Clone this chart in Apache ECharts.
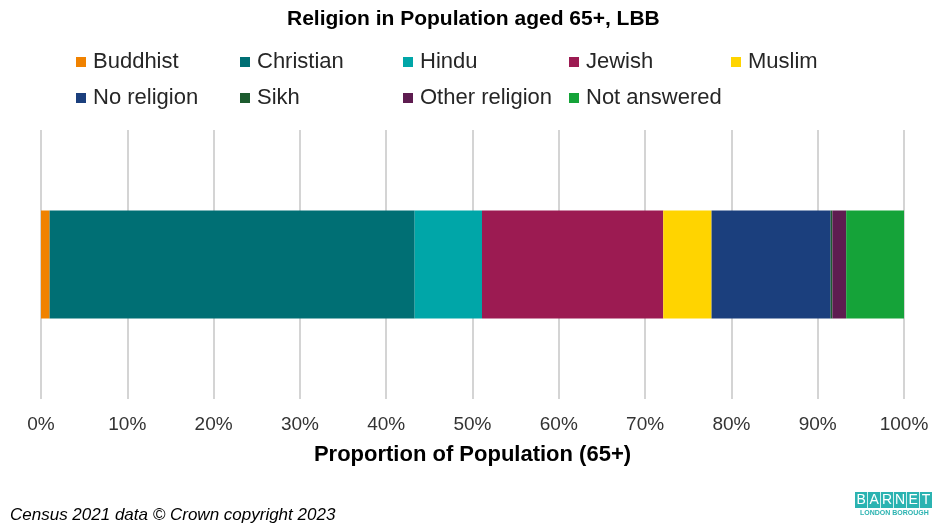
<!DOCTYPE html>
<html>
<head>
<meta charset="utf-8">
<script src="https://cdn.jsdelivr.net/npm/echarts@6/dist/echarts.min.js"></script>
<style>html,body{margin:0;padding:0;background:#fff;}#c{width:932px;height:524px;}</style>
</head>
<body>
<div id="c"></div>
<script>
const categories = ['LBB'];
const religions = ['Buddhist','Christian','Hindu','Jewish','Muslim','No religion','Sikh','Other religion','Not answered'];
const shares = [1.0, 42.3, 7.8, 21.0, 5.6, 13.8, 0.2, 1.6, 6.7];
const colors = ['#F08200','#006F74','#00A6A8','#9C1B52','#FFD400','#1B3F7D','#1D5B2F','#5E1C50','#15A339'];
const tickValues = [0,10,20,30,40,50,60,70,80,90,100];

const FONT = '"Liberation Sans", Arial, sans-serif';
const legendPos = [
  [76,50],[240,50],[403,50],[569,50],[731,50],
  [76,86],[240,86],[403,86],[569,86]
];

const chart = echarts.init(document.getElementById('c'));
chart.setOption({
  animation: false,
  color: colors,
  title: {
    text: 'Religion in Population aged 65+, LBB',
    left: 287, top: 9, padding: 0,
    textStyle: {fontFamily: FONT, fontSize: 21, fontWeight: 'bold', color: '#000'}
  },
  legend: religions.map((r, i) => ({
    data: [r],
    left: legendPos[i][0], top: legendPos[i][1], padding: 0,
    icon: 'rect', itemWidth: 10, itemHeight: 10,
    textStyle: {fontFamily: FONT, fontSize: 22, color: '#262626', lineHeight: 24, padding: [0,0,0,2]}
  })),
  grid: {left: 41, right: 28, top: 130, bottom: 125},
  xAxis: {
    type: 'value', min: tickValues[0], max: tickValues[tickValues.length-1], interval: 10,
    axisLine: {show: false}, axisTick: {show: false},
    splitLine: {show: true, lineStyle: {color: '#C6C6C6', width: 1.5}},
    axisLabel: {formatter: '{value}%', margin: 16, fontFamily: FONT, fontSize: 19, color: '#333'},
    name: 'Proportion of Population (65+)', nameLocation: 'middle', nameGap: 45,
    nameTextStyle: {fontFamily: FONT, fontSize: 22, fontWeight: 'bold', color: '#000'}
  },
  yAxis: {
    type: 'category', data: categories, show: false
  },
  series: religions.map((r, i) => ({
    name: r, type: 'bar', stack: 'total', barWidth: 108,
    data: [shares[i]],
    itemStyle: {color: colors[i]}
  })),
  graphic: [
    {type: 'text', left: 10, top: 507, style: {text: 'Census 2021 data © Crown copyright 2023', font: 'italic 17px ' + FONT, fill: '#000'}},
    {type: 'group', left: 855, top: 492, children: ['B','A','R','N','E','T'].map((ch, k) => ({
      type: 'group', x: k*13, children: [
        {type: 'rect', shape: {x: 0, y: 0, width: 12.2, height: 16}, style: {fill: '#2BB3B1'}},
        {type: 'text', x: 6.1, y: 8, style: {text: ch, font: '14px ' + FONT, fill: '#fff', align: 'center', verticalAlign: 'middle'}}
      ]
    }))},
    {type: 'text', left: 860, top: 510, style: {text: 'LONDON BOROUGH', font: 'bold 7px ' + FONT, fill: '#2BB3B1'}}
  ]
});
</script>
</body>
</html>
